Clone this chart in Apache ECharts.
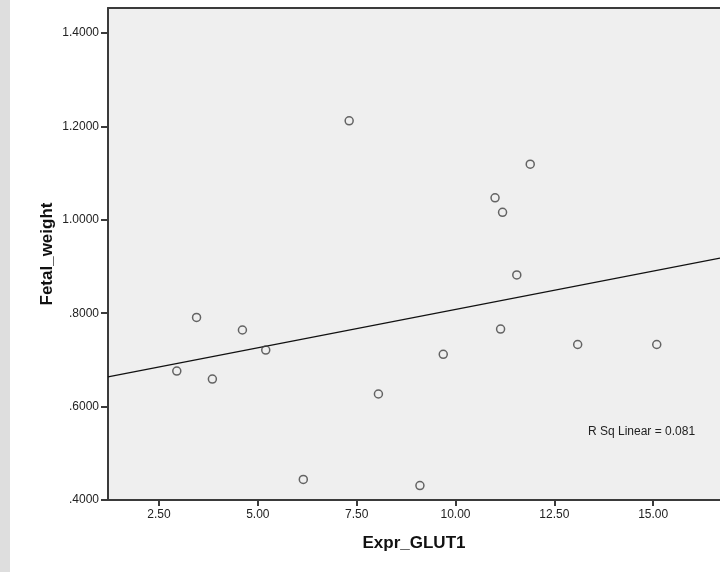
<!DOCTYPE html>
<html>
<head>
<meta charset="utf-8">
<script src="https://cdn.jsdelivr.net/npm/echarts@6/dist/echarts.min.js"></script>
<style>
  html, body { margin: 0; padding: 0; background: #fff; }
  #chart { width: 720px; height: 572px; }
</style>
</head>
<body>
<div id="chart"></div>
<script>
// values
const glut1 = [2.95, 3.45, 3.85, 4.61, 5.20, 6.15, 7.31, 8.05, 9.10, 9.69,
    11.00, 11.14, 11.19, 11.55, 11.89, 13.09, 15.09]
const fetalWeight = [0.676, 0.791, 0.659, 0.764, 0.721, 0.444, 1.212, 0.627, 0.431, 0.712,
    1.047, 0.766, 1.016, 0.882, 1.119, 0.733, 0.733]
const xTicks = [2.5, 5, 7.5, 10, 12.5, 15]
// plot is cropped on the right in the original, so there is no right border
const xRange = [1.21, 16.69]
const yRange = [0.4, 1.4535]
const rSqLabel = "R Sq Linear = 0.081"

const points = glut1.map((x, i) => [x, fetalWeight[i]])

// least squares fit line across the whole x axis
const mean = (arr) => arr.reduce((a, b) => a + b, 0) / arr.length
const mx = mean(glut1)
const my = mean(fetalWeight)
let sxy = 0
let sxx = 0
glut1.forEach((x, i) => {
    sxy += (x - mx) * (fetalWeight[i] - my)
    sxx += (x - mx) * (x - mx)
})
const slope = sxy / sxx
const intercept = my - slope * mx
const fitLine = xRange.map((x) => [x, intercept + slope * x])

const chart = echarts.init(document.getElementById("chart"))

const axisColor = "#3a3a3a"
const font = "Liberation Sans, Arial, sans-serif"
const axisLine = { lineStyle: { color: axisColor, width: 2 } }

chart.setOption({
    animation: false,
    textStyle: { fontFamily: font },
    grid: {
        left: 108,
        right: 0,
        top: 8,
        bottom: 72,
        show: true,
        backgroundColor: "#efefef",
        borderWidth: 0,
    },
    graphic: [
        {
            type: "rect",
            left: 0,
            top: 0,
            shape: { width: 10, height: 572 },
            style: { fill: "#dedede" },
            silent: true,
        },
        {
            type: "text",
            left: 588,
            top: 426,
            style: {
                text: rSqLabel,
                font: "12px " + font,
                fill: "#222",
            },
        },
    ],
    xAxis: [
        {
            type: "value",
            min: xRange[0],
            max: xRange[1],
            name: "Expr_GLUT1",
            nameLocation: "middle",
            nameGap: 35,
            nameMoveOverlap: false,
            nameTextStyle: {
                fontSize: 17,
                fontWeight: "bold",
                color: "#111",
            },
            splitLine: { show: false },
            axisLine: axisLine,
            axisTick: {
                length: 6,
                lineStyle: { color: axisColor, width: 2 },
                customValues: xTicks,
            },
            axisLabel: {
                fontSize: 12,
                color: "#222",
                margin: 9,
                customValues: xTicks,
                formatter: (v) => v.toFixed(2),
            },
        },
        {
            // top frame line only
            type: "value",
            position: "top",
            min: xRange[0],
            max: xRange[1],
            splitLine: { show: false },
            axisLine: axisLine,
            axisTick: { show: false },
            axisLabel: { show: false },
        },
    ],
    yAxis: {
        type: "value",
        min: yRange[0],
        max: yRange[1],
        interval: 0.2,
        name: "Fetal_weight",
        nameLocation: "middle",
        nameGap: 52,
        nameMoveOverlap: false,
        nameTextStyle: {
            fontSize: 17,
            fontWeight: "bold",
            color: "#111",
        },
        splitLine: { show: false },
        axisLine: axisLine,
        axisTick: { length: 7, lineStyle: { color: axisColor, width: 2 } },
        axisLabel: {
            fontSize: 12,
            color: "#222",
            margin: 9,
            showMaxLabel: false,
            formatter: (v) => v.toFixed(4).replace(/^0/, ""),
        },
    },
    series: [
        {
            type: "line",
            data: fitLine,
            showSymbol: false,
            lineStyle: { color: "#111", width: 1.3 },
            z: 2,
        },
        {
            type: "scatter",
            data: points,
            symbol: "circle",
            symbolSize: 8,
            itemStyle: {
                color: "rgba(0,0,0,0)",
                borderColor: "#404040",
                borderWidth: 1.5,
            },
            z: 3,
        },
    ],
})
</script>
</body>
</html>
